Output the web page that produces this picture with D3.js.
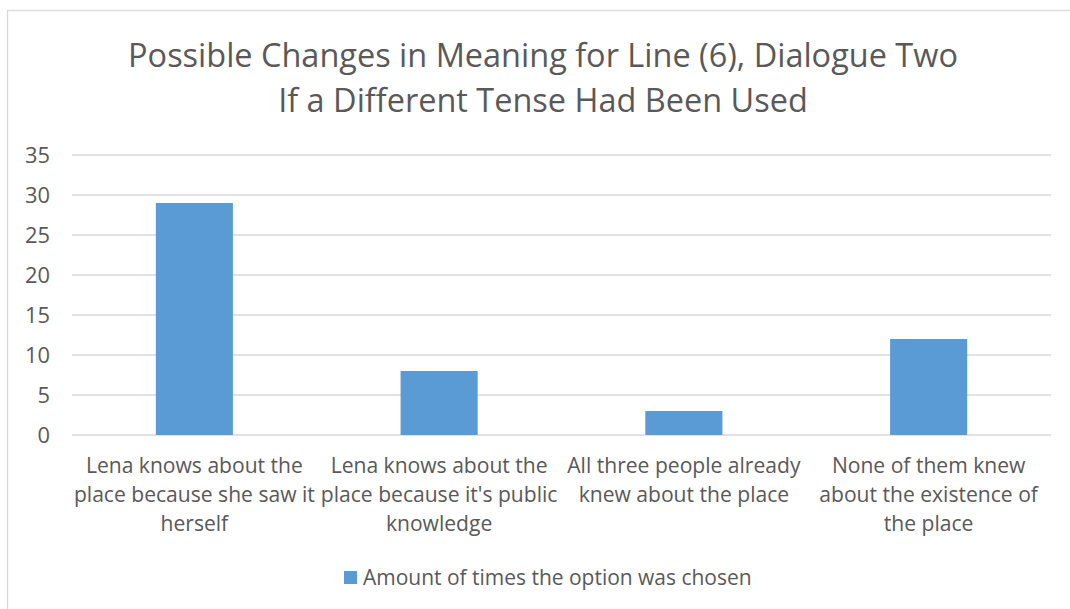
<!DOCTYPE html>
<html>
<head>
<meta charset="utf-8">
<script src="https://cdn.jsdelivr.net/npm/d3@7"></script>
<style>
  html, body { margin: 0; padding: 0; background: #fff; }
  svg text { font-family: "Open Sans", "Noto Sans", sans-serif; fill: #595959; }
</style>
</head>
<body>
<svg id="chart" width="1070" height="609"></svg>
<script>
const titleLines = ["Possible Changes in Meaning for Line (6), Dialogue Two", "If a Different Tense Had Been Used"];
const categories = [
  ["Lena knows about the", "place because she saw it", "herself"],
  ["Lena knows about the", "place because it's public", "knowledge"],
  ["All three people already", "knew about the place"],
  ["None of them knew", "about the existence of", "the place"]
];
const values = [29, 8, 3, 12];
const yTicks = [0, 5, 10, 15, 20, 25, 30, 35];
const seriesName = "Amount of times the option was chosen";

const svg = d3.select("#chart");
const W = 1070, H = 609;
const m = { left: 72, right: 1051, top: 155, bottom: 435 };
const barColor = "#5B9BD5";

// fit helper: scale font size so sample text gets target width
function fitSize(text, target, base) {
  const t = svg.append("text").attr("font-size", base).text(text);
  const w = t.node().getComputedTextLength();
  t.remove();
  return base * target / w;
}

// border
svg.append("rect").attr("x", 7.5).attr("y", 10.5).attr("width", 1100).attr("height", 700)
  .attr("fill", "#fff").attr("stroke", "#d9d9d9").attr("stroke-width", 1.3);

const x = d3.scaleBand().domain(d3.range(categories.length)).range([m.left, m.right])
  .paddingInner(0.685).paddingOuter(0.3425);
const y = d3.scaleLinear().domain([0, 35]).range([m.bottom, m.top]);

// gridlines
svg.append("g").selectAll("line").data(yTicks).join("line")
  .attr("x1", m.left).attr("x2", m.right)
  .attr("y1", d => y(d)).attr("y2", d => y(d))
  .attr("stroke", "#d9d9d9").attr("stroke-width", 1.3);

// y axis labels
const tickSize = fitSize("35", 25, 18);
const yAxis = d3.axisLeft(y).tickValues(yTicks).tickSize(0).tickPadding(0);
const gy = svg.append("g").attr("transform", `translate(50,0)`).call(yAxis);
gy.select(".domain").remove();
gy.selectAll("text").attr("font-size", tickSize).attr("fill", "#595959")
  .style("font-family", '"Open Sans", sans-serif').attr("dy", "0.35em");

// bars
svg.append("g").selectAll("rect").data(values).join("rect")
  .attr("x", (d, i) => x(i)).attr("width", x.bandwidth())
  .attr("y", d => y(d)).attr("height", d => y(0) - y(d))
  .attr("fill", barColor);

// category labels
const catSize = fitSize("place because she saw it", 241, 18);
const cg = svg.append("g");
categories.forEach((lines, i) => {
  const cx = x(i) + x.bandwidth() / 2;
  const t = cg.append("text").attr("text-anchor", "middle").attr("font-size", catSize);
  lines.forEach((l, j) => {
    t.append("tspan").attr("x", cx).attr("y", 473 + j * 29).text(l);
  });
});

// title
const titleSize = fitSize(titleLines[0], 830, 30);
const tt = svg.append("text").attr("text-anchor", "middle").attr("font-size", titleSize);
titleLines.forEach((l, j) => {
  tt.append("tspan").attr("x", 543).attr("y", 67 + j * 45).text(l);
});

// legend
const legSize = fitSize(seriesName, 389, 18);
svg.append("rect").attr("x", 344).attr("y", 571).attr("width", 13).attr("height", 13).attr("fill", barColor);
svg.append("text").attr("x", 363).attr("y", 585).attr("font-size", legSize).text(seriesName);
</script>
</body>
</html>
